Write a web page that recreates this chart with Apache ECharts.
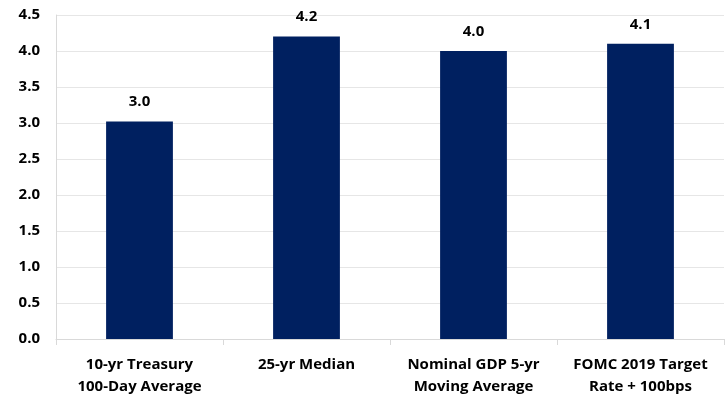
<!DOCTYPE html>
<html><head><meta charset="utf-8">
<script src="https://cdn.jsdelivr.net/npm/echarts@6/dist/echarts.min.js"></script>
<style>html,body{margin:0;padding:0;background:#fff}#c{width:728px;height:398px}</style>
</head><body><div id="c"></div>
<script>
var categories = ["10-yr Treasury\n100-Day Average", "25-yr Median", "Nominal GDP 5-yr\nMoving Average", "FOMC 2019 Target\nRate + 100bps"];
var values = [3.02, 4.2, 4.0, 4.1];
var labels = ["3.0", "4.2", "4.0", "4.1"];
var chart = echarts.init(document.getElementById('c'));
var font = '"Open Sans", Lato, sans-serif';
chart.setOption({
  animation: false,
  grid: {left: 56, right: 4, top: 15, bottom: 57, containLabel: false},
  xAxis: {
    type: 'category', data: categories,
    axisLine: {lineStyle: {color: '#d9d9d9', width: 1}},
    axisTick: {show: true, length: 6, lineStyle: {color: '#d9d9d9'}},
    axisLabel: {interval: 0, color: '#000', fontFamily: font, fontWeight: 'bold', fontSize: 15, lineHeight: 22, margin: 15}
  },
  yAxis: {
    type: 'value', min: 0, max: 4.5, interval: 0.5,
    axisLine: {show: true, lineStyle: {color: '#d9d9d9'}},
    axisTick: {show: false},
    splitLine: {lineStyle: {color: '#e6e6e6'}},
    axisLabel: {color: '#000', fontFamily: font, fontWeight: 'bold', fontSize: 15, margin: 16,
      formatter: function(v){return v.toFixed(1);}}
  },
  series: [{
    type: 'bar', data: values, barWidth: '40%',
    itemStyle: {color: '#002060'},
    label: {show: true, position: 'top', distance: 12, color: '#000', fontFamily: font, fontWeight: 'bold', fontSize: 15,
      formatter: function(p){return labels[p.dataIndex];}}
  }]
});
</script></body></html>
